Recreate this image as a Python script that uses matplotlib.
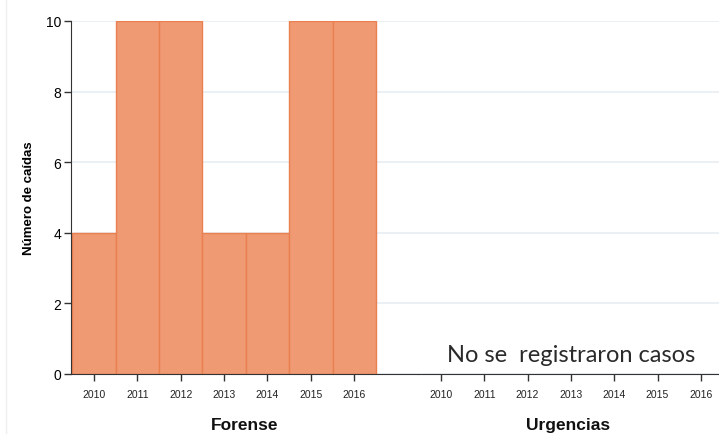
import matplotlib
matplotlib.use("Agg")
import matplotlib.pyplot as plt
from matplotlib.lines import Line2D

years = [2010, 2011, 2012, 2013, 2014, 2015, 2016]
forense = [4, 10, 10, 4, 4, 10, 10]
urgencias = [0, 0, 0, 0, 0, 0, 0]
panels = ["Forense", "Urgencias"]
yticks = [0, 2, 4, 6, 8, 10]

W, H = 719, 435
fig = plt.figure(figsize=(W / 100, H / 100), dpi=100)
plt.rcParams['font.family'] = ['Liberation Sans', 'DejaVu Sans']

def fr(x0, y0, x1, y1):
    return [x0 / W, 1 - y1 / H, (x1 - x0) / W, (y1 - y0) / H]

fig.add_artist(Line2D([6 / W, 6 / W], [0, 1], color='#eeeeee', linewidth=1, transform=fig.transFigure))

ax1 = fig.add_axes(fr(71, 22, 418, 375))
ax2 = fig.add_axes(fr(418, 22, 719, 375))

for ax, vals, title in [(ax1, forense, panels[0]), (ax2, urgencias, panels[1])]:
    ax.set_ylim(0, 10)
    ax.set_yticks(yticks)
    ax.grid(axis='y', color='#e6edf1', linewidth=1.2)
    ax.set_axisbelow(True)
    for s in ['top', 'right']:
        ax.spines[s].set_visible(False)
    ax.spines['bottom'].set_color('#333333')
    ax.set_xticks(years)
    ax.set_xticklabels([str(y) for y in years], fontsize=7.5, color='#222222')
    ax.tick_params(axis='x', length=5, width=1, color='#333333', pad=6)
    ax.set_xlabel(title, fontsize=12.5, fontweight='bold', labelpad=13, color='#111111')
    if any(vals):
        ax.bar(years, vals, width=1.0, color='#f09a73', edgecolor='#ea8050', linewidth=1)

ax1.set_xlim(2009.47, 2017.47)
ax2.set_xlim(2009.47, 2016.42)
ax1.spines['left'].set_color('#333333')
ax1.tick_params(axis='y', length=5, width=1, color='#333333', labelsize=10, pad=2)
ax1.set_ylabel("Número de caídas", fontsize=9.5, fontweight='bold', labelpad=8)
ax2.spines['left'].set_visible(False)
ax2.tick_params(axis='y', left=False, labelleft=False)

ax2.text(2013.0, 0.54, "No se  registraron casos", fontsize=17, ha='center', va='center',
         color='#2a2a2a', family=['Lato', 'DejaVu Sans'])

fig.savefig("out.png", dpi=100)
